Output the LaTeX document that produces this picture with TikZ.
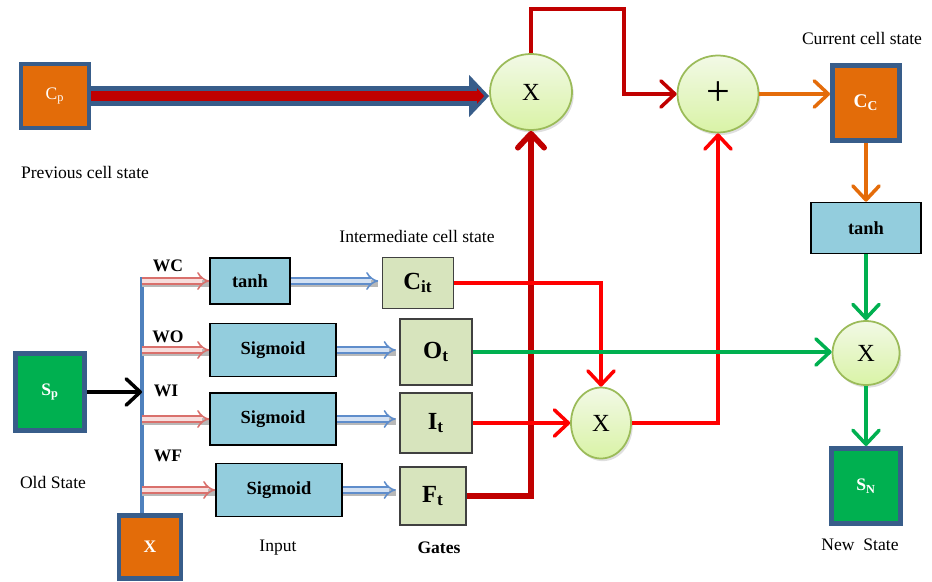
\documentclass[tikz,border=0pt]{standalone}
\usepackage{fontspec}
\setmainfont{Liberation Serif}
\usepackage{xcolor}
\usetikzlibrary{arrows.meta,positioning,shapes.geometric,shadows}
\definecolor{cellorange}{HTML}{E36C09}
\definecolor{cellframe}{HTML}{385D8A}
\definecolor{stategreen}{HTML}{00B050}
\definecolor{actblue}{HTML}{93CDDD}
\definecolor{gatefill}{HTML}{D7E4BD}
\definecolor{gateedge}{HTML}{404040}
\definecolor{opedge}{HTML}{9BBB59}
\definecolor{optop}{HTML}{F2F9E6}
\definecolor{opbot}{HTML}{D9F3A6}
\definecolor{deepred}{HTML}{C00000}
\definecolor{brightred}{HTML}{FF0000}
\definecolor{linegreen}{HTML}{00B050}
\definecolor{lineorange}{HTML}{E46C0A}
\definecolor{barblue}{HTML}{4F81BD}
\definecolor{wline}{HTML}{D9706C}
\definecolor{wfill}{HTML}{F7DEDD}
\definecolor{gline}{HTML}{5F8DCB}
\definecolor{gfill}{HTML}{D3E1F3}
\tikzset{
  statebox/.style={draw=cellframe, line width=2.8pt, text=white, inner sep=0pt},
  actbox/.style={draw=black, line width=0.9pt, fill=actblue, inner sep=0pt, font=\fontsize{10.5}{12}\selectfont\bfseries},
  gatebox/.style={draw=gateedge, line width=0.9pt, fill=gatefill, inner sep=0pt, font=\fontsize{14}{16}\selectfont\bfseries},
  opnode/.style={ellipse, draw=opedge, line width=1pt, top color=optop, bottom color=opbot, inner sep=0pt,
    drop shadow={opacity=0.25, shadow xshift=1pt, shadow yshift=-1.5pt}, font=\fontsize{14}{16}\selectfont},
  barb/.style={-{Straight Barb[length=8pt,width=15pt,round]}},
  link/.style={line width=2pt, barb},
  hollowshadow/.style={preaction={-, draw=black!28, line width=4.2pt, transform canvas={yshift=-1.3pt}}},
  warrow/.style={hollowshadow, draw=wline, double=wfill, line width=0.9pt, double distance=2.6pt, -{Implies}},
  garrow/.style={hollowshadow, draw=gline, double=gfill, line width=0.9pt, double distance=2.6pt, -{Implies}, shorten >=2pt},
  wlabel/.style={font=\fontsize{10}{12}\selectfont\bfseries}
}
\begin{document}
\begin{tikzpicture}[x=0.02cm, y=-0.02cm, font=\fontsize{10}{12}\selectfont]
    \def\u{0.02cm}
    \useasboundingbox (0,0) rectangle (932,581);

    % state boxes
    \node[statebox, fill=cellorange, minimum width=68*\u, minimum height=64*\u] (cp) at (55,96) {C\textsubscript{p}};
    \node[statebox, fill=stategreen, minimum width=69*\u, minimum height=77*\u, font=\bfseries] (sp) at (50,392) {S\textsubscript{p}};
    \node[statebox, fill=cellorange, minimum width=62*\u, minimum height=63*\u, font=\bfseries] (xin) at (150,547) {X};
    \node[statebox, fill=cellorange, minimum width=67*\u, minimum height=75*\u, font=\fontsize{11}{13}\selectfont\bfseries] (cc) at (866,103) {C\textsubscript{C}};
    \node[statebox, fill=stategreen, minimum width=69*\u, minimum height=75*\u, font=\bfseries] (sn) at (866,486) {S\textsubscript{N}};

    % activations
    \node[actbox, minimum width=80*\u, minimum height=46*\u] (tanhl) at (250,281) {tanh};
    \node[actbox, minimum width=126*\u, minimum height=53*\u] (sig1) at (273,350) {Sigmoid};
    \node[actbox, minimum width=126*\u, minimum height=52*\u] (sig2) at (273,419) {Sigmoid};
    \node[actbox, minimum width=126*\u, minimum height=53*\u] (sig3) at (279,490) {Sigmoid};
    \node[actbox, minimum width=110*\u, minimum height=51*\u] (tanhr) at (866,228) {tanh};

    % gates
    \node[gatebox, minimum width=71*\u, minimum height=51*\u] (cit) at (418,283) {C\textsubscript{it}};
    \node[gatebox, minimum width=72*\u, minimum height=66*\u] (ot) at (436,352) {O\textsubscript{t}};
    \node[gatebox, minimum width=72*\u, minimum height=60*\u] (it) at (436,423) {I\textsubscript{t}};
    \node[gatebox, minimum width=66*\u, minimum height=58*\u] (ft) at (433,496) {F\textsubscript{t}};

    % pointwise operations
    \node[opnode, minimum width=82*\u, minimum height=76*\u] (x1) at (531,92) {X};
    \node[opnode, minimum width=81*\u, minimum height=77*\u, font=\fontsize{24}{26}\selectfont] (plus) at (718,94) {+};
    \node[opnode, minimum width=60*\u, minimum height=71*\u] (x2) at (601,423) {X};
    \node[opnode, minimum width=67*\u, minimum height=64*\u] (x3) at (866,353) {X};

    % weight labels
    \node[wlabel] (wc) at (168,266) {WC};
    \node[wlabel] (wo) at (168,337) {WO};
    \node[wlabel] (wi) at (166,391) {WI};
    \node[wlabel] (wf) at (168,456) {WF};

    % captions
    \node (prevlbl) at (85,172) {Previous cell state};
    \node (oldlbl) at (53,482) {Old State};
    \node (interlbl) at (417,236) {Intermediate cell state};
    \node (curlbl) at (862,38) {Current cell state};
    \node (inlbl) at (278,548) {Input};
    \node[font=\bfseries] (gatelbl) at (439,548) {Gates};
    \node (newlbl) at (860,545) {New~ State};

    % cell state line
    \draw[cellframe, line width=0.4cm, -{Triangle[length=0.4cm,width=0.82cm]}] (cp.east) -- (cp.east -| x1.west);
    \draw[deepred, line width=0.2cm, -{Triangle[length=0.14cm,width=0.3cm]}, shorten >=0.1cm] (cp.east) -- (cp.east -| x1.west);

    % input bus
    \coordinate (bartop) at (142,277);
    \draw[barblue, line width=2.2pt] (bartop) -- (bartop |- xin.north);
    \draw[black, link] (sp.east) -- (sp.east -| bartop);
    \foreach \b in {tanhl,sig1,sig2,sig3}
      \draw[warrow] (bartop |- \b.west) -- (\b.west);

    % activations to gates
    \draw[garrow] (tanhl.east) -- (tanhl.east -| cit.west);
    \draw[garrow] (sig1.east) -- (sig1.east -| ot.west);
    \draw[garrow] (sig2.east) -- (sig2.east -| it.west);
    \draw[garrow] (sig3.east) -- (sig3.east -| ft.west);

    % gate connections
    \coordinate (looptop) at (624,9);
    \draw[deepred, link] (x1.north) |- (looptop) |- (plus.west);
    \draw[deepred, link, line width=3.2pt] (ft.east) -| (x1.south);
    \draw[brightred, link] (cit.east) -| (x2.north);
    \draw[brightred, link] (it.east) -- (x2.west);
    \draw[brightred, link] (x2.east) -| (plus.south);
    \draw[linegreen, link] (ot.east) -- (ot.east -| x3.west);

    % output side
    \draw[lineorange, link] (plus.east) -- (plus.east -| cc.west);
    \draw[lineorange, link] (cc.south) -- (tanhr.north);
    \draw[linegreen, link] (tanhr.south) -- (x3.north);
    \draw[linegreen, link] (x3.south) -- (sn.north);
\end{tikzpicture}
\end{document}
